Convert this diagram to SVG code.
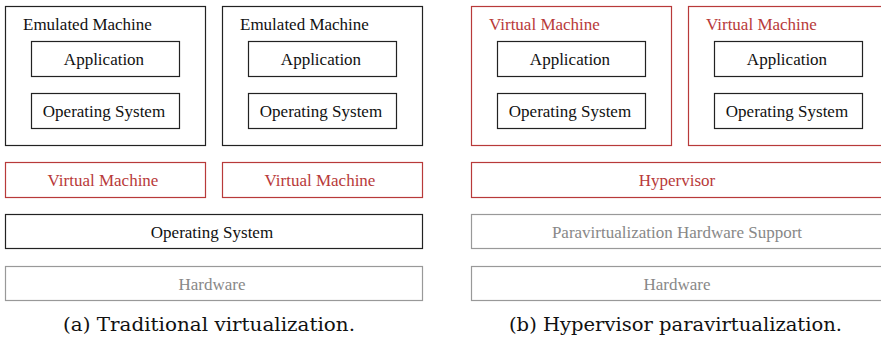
<svg xmlns="http://www.w3.org/2000/svg" width="881" height="338" viewBox="0 0 881 338">
<style>
rect{fill:#fff;stroke-width:1.2}
.k{stroke:#222}
.r{stroke:#b83a3a}
.g{stroke:#999}
text{font-family:'Liberation Serif','DejaVu Serif',serif;font-size:17px}
.c{text-anchor:middle}
.tk{fill:#111}
.tr{fill:#b83a3a}
.tg{fill:#888}
.cap{font-family:'DejaVu Serif','Liberation Serif',serif;font-size:19px;fill:#111;text-anchor:middle}
</style>
<rect x="0" y="0" width="881" height="338" fill="#fff" stroke="none"/>
<g id="em1"><rect class="k" x="5.5" y="6.5" width="200" height="139"/><text class="tk" x="23" y="30">Emulated Machine</text></g>
<g id="em1-app"><rect class="k" x="31.5" y="41.5" width="148" height="35"/><text class="tk c" x="104" y="65">Application</text></g>
<g id="em1-os"><rect class="k" x="31.5" y="93.5" width="148" height="35"/><text class="tk c" x="104" y="117">Operating System</text></g>
<g id="em2"><rect class="k" x="222.5" y="6.5" width="200" height="139"/><text class="tk" x="240" y="30">Emulated Machine</text></g>
<g id="em2-app"><rect class="k" x="248.5" y="41.5" width="148" height="35"/><text class="tk c" x="321" y="65">Application</text></g>
<g id="em2-os"><rect class="k" x="248.5" y="93.5" width="148" height="35"/><text class="tk c" x="321" y="117">Operating System</text></g>
<g id="vm-a1"><rect class="r" x="5.5" y="162.5" width="200" height="35"/><text class="tr c" x="103" y="186">Virtual Machine</text></g>
<g id="vm-a2"><rect class="r" x="222.5" y="162.5" width="200" height="35"/><text class="tr c" x="320" y="186">Virtual Machine</text></g>
<g id="os-a"><rect class="k" x="5.5" y="214.5" width="417" height="34"/><text class="tk c" x="212" y="238">Operating System</text></g>
<g id="hw-a"><rect class="g" x="5.5" y="266.5" width="417" height="34"/><text class="tg c" x="212" y="290">Hardware</text></g>
<g id="vm-b1"><rect class="r" x="471.5" y="6.5" width="200" height="139"/><text class="tr" x="489" y="30">Virtual Machine</text></g>
<g id="vm-b1-app"><rect class="k" x="497.5" y="41.5" width="148" height="35"/><text class="tk c" x="570" y="65">Application</text></g>
<g id="vm-b1-os"><rect class="k" x="497.5" y="93.5" width="148" height="35"/><text class="tk c" x="570" y="117">Operating System</text></g>
<g id="vm-b2"><rect class="r" x="688.5" y="6.5" width="200" height="139"/><text class="tr" x="706" y="30">Virtual Machine</text></g>
<g id="vm-b2-app"><rect class="k" x="714.5" y="41.5" width="148" height="35"/><text class="tk c" x="787" y="65">Application</text></g>
<g id="vm-b2-os"><rect class="k" x="714.5" y="93.5" width="148" height="35"/><text class="tk c" x="787" y="117">Operating System</text></g>
<g id="hyp"><rect class="r" x="471.5" y="162.5" width="417" height="35"/><text class="tr c" x="677" y="186">Hypervisor</text></g>
<g id="phw"><rect class="g" x="471.5" y="214.5" width="417" height="34"/><text class="tg c" x="677" y="238">Paravirtualization Hardware Support</text></g>
<g id="hw-b"><rect class="g" x="471.5" y="266.5" width="417" height="34"/><text class="tg c" x="677" y="290">Hardware</text></g>
<g id="connectors"></g>
<text class="cap" x="209" y="331" textLength="292" lengthAdjust="spacingAndGlyphs">(a) Traditional virtualization.</text>
<text class="cap" x="675.5" y="331" textLength="333" lengthAdjust="spacingAndGlyphs">(b) Hypervisor paravirtualization.</text>
</svg>
